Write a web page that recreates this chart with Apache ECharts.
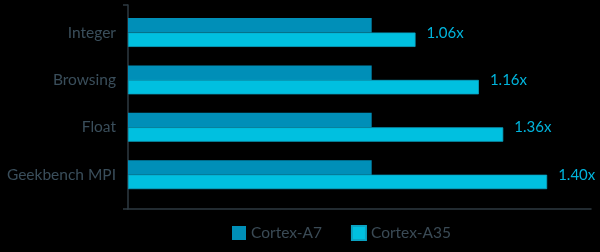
<!DOCTYPE html>
<html>
<head>
<meta charset="utf-8">
<style>
html,body{margin:0;padding:0;background:#000;}
#c{width:600px;height:252px;}
</style>
<script src="https://cdn.jsdelivr.net/npm/echarts@6/dist/echarts.min.js"></script>
</head>
<body>
<div id="c"></div>
<script>
const categories = ['Integer', 'Browsing', 'Float', 'Geekbench MPI'];
const seriesNames = ['Cortex-A7', 'Cortex-A35'];
const a7Values = [1.00, 1.00, 1.00, 1.00];
const a35Values = [1.18, 1.44, 1.54, 1.72];
const a35Labels = ['1.06x', '1.16x', '1.36x', '1.40x'];

const chart = echarts.init(document.getElementById('c'), null, {renderer: 'canvas'});
const axisColor = '#2e3a42';
chart.setOption({
  backgroundColor: '#000000',
  animation: false,
  textStyle: {fontFamily: 'Lato'},
  legend: {
    data: seriesNames,
    top: 225,
    left: 232,
    padding: 0,
    itemWidth: 14,
    itemHeight: 14,
    itemGap: 29,
    icon: 'rect',
    textStyle: {color: '#3a4a55', fontSize: 15.5, fontFamily: 'Lato'}
  },
  grid: [
    {left: 128, right: 9, top: 8.8, height: 189.6},
    {left: 128, right: 9, top: 5, bottom: 43}
  ],
  xAxis: [
    {gridIndex: 0, type: 'value', min: 0, max: 1.9, show: false},
    {gridIndex: 1, type: 'value', min: 0, max: 1, axisLine: {show: true, lineStyle: {color: axisColor, width: 1.5}},
     axisTick: {show: false}, axisLabel: {show: false}, splitLine: {show: false}}
  ],
  yAxis: [
    {gridIndex: 0, type: 'category', data: categories, inverse: true,
     axisLine: {show: false}, axisTick: {show: false},
     axisLabel: {color: '#3a4e5b', fontSize: 15.5, fontFamily: 'Lato', margin: 12}},
    {gridIndex: 1, type: 'category', data: [''], inverse: true,
     axisLine: {show: true, lineStyle: {color: axisColor, width: 1.5}},
     axisTick: {show: true, length: 5, lineStyle: {color: axisColor, width: 1.5}},
     axisLabel: {show: false}}
  ],
  series: [
    {name: seriesNames[0], type: 'bar', xAxisIndex: 0, yAxisIndex: 0, data: a7Values,
     barGap: '0%', barCategoryGap: '39%', itemStyle: {color: '#008fb8'}},
    {name: seriesNames[1], type: 'bar', xAxisIndex: 0, yAxisIndex: 0, data: a35Values,
     itemStyle: {color: '#00c0e0', borderColor: '#0aa2c2', borderWidth: 0.8},
     label: {show: true, position: 'right', distance: 11, offset: [0, -7],
       color: '#00b4dc', fontSize: 15, fontFamily: 'Lato',
       formatter: p => a35Labels[p.dataIndex]}}
  ]
});
</script>
</body>
</html>
